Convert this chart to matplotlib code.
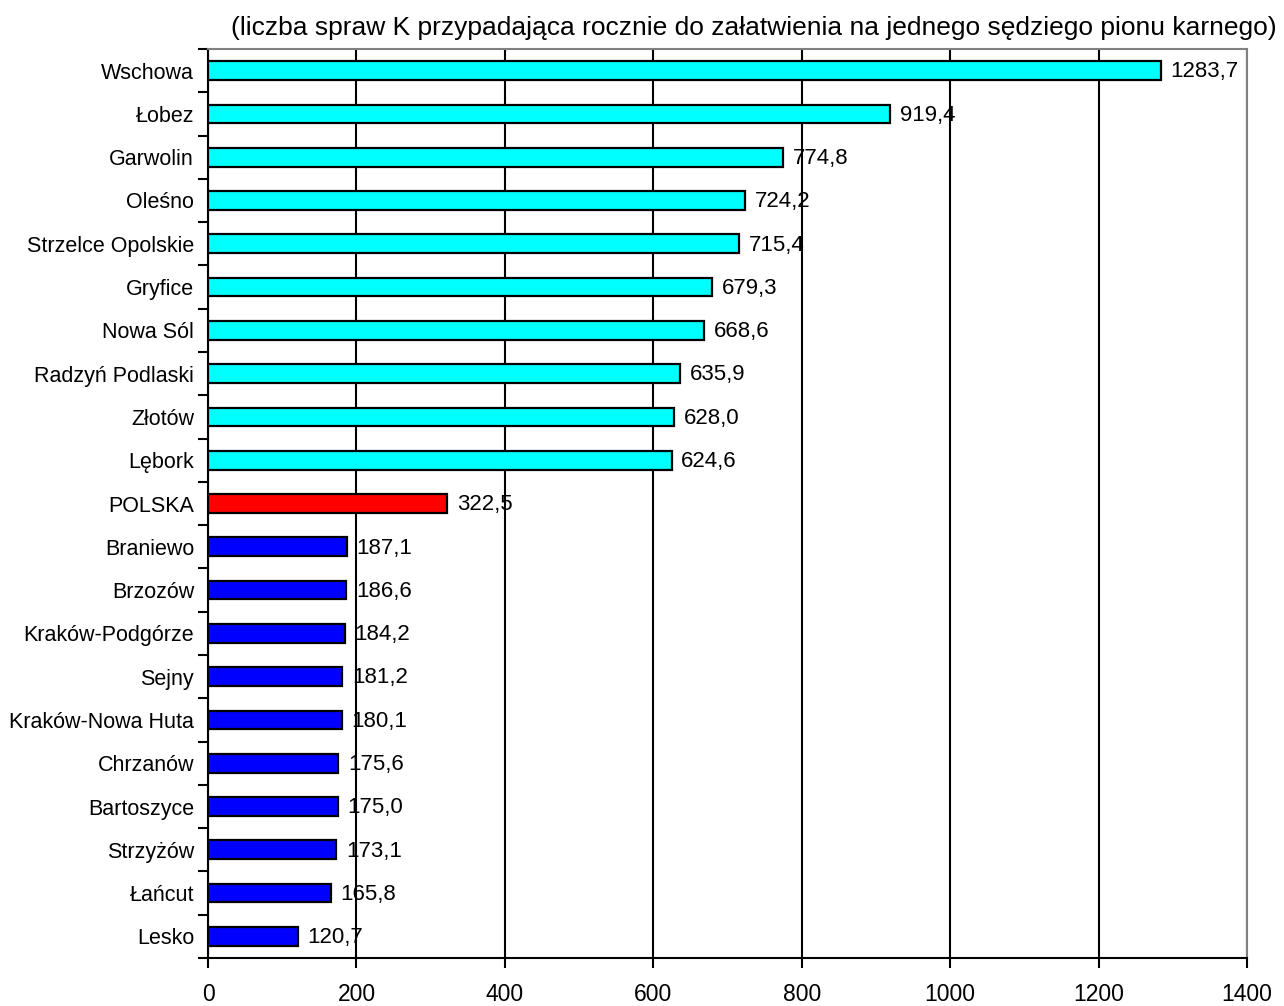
import matplotlib
matplotlib.use('Agg')
import matplotlib.pyplot as plt
import numpy as np

plt.rcParams['font.family'] = ['Liberation Sans', 'DejaVu Sans']

# dane (od góry do dołu)
sady = ['Wschowa', 'Łobez', 'Garwolin', 'Oleśno', 'Strzelce Opolskie', 'Gryfice',
        'Nowa Sól', 'Radzyń Podlaski', 'Złotów', 'Lębork', 'POLSKA', 'Braniewo',
        'Brzozów', 'Kraków-Podgórze', 'Sejny', 'Kraków-Nowa Huta', 'Chrzanów',
        'Bartoszyce', 'Strzyżów', 'Łańcut', 'Lesko']
wartosci = [1283.7, 919.4, 774.8, 724.2, 715.4, 679.3, 668.6, 635.9, 628.0, 624.6,
            322.5, 187.1, 186.6, 184.2, 181.2, 180.1, 175.6, 175.0, 173.1, 165.8, 120.7]
kolory = ['#00FFFF'] * 10 + ['#FF0000'] + ['#0000FF'] * 10

tytul = '(liczba spraw K przypadająca rocznie do załatwienia na jednego sędziego pionu karnego)'

fig = plt.figure(figsize=(12.84, 10.06), dpi=100)
ax = fig.add_axes([0.162, 0.0477, 0.8092, 0.9036])

n = len(sady)
y = np.arange(n)
ax.barh(y, wartosci, height=0.43, color=kolory, edgecolor='black', linewidth=1.6, zorder=3)

for yi, v in zip(y, wartosci):
    ax.text(v + 13, yi + 0.03, f'{v:.1f}'.replace('.', ','), va='center', ha='left',
            fontsize=16, zorder=4)

ax.set_xlim(0, 1400)
ax.set_ylim(n - 0.5, -0.5)
ax.set_xticks(np.arange(0, 1401, 200))
ax.tick_params(axis='x', labelsize=16.5, direction='out', length=7, width=1.5, pad=11)

# etykiety na środku, kreski między kategoriami
ax.set_yticks(y)
ax.set_yticklabels(sady, fontsize=15.5)
ax.tick_params(axis='y', which='major', length=0, pad=10)
ax.set_yticks(np.arange(-0.5, n, 1), minor=True)
ax.tick_params(axis='y', which='minor', direction='out', length=7, width=1.5)

ax.grid(axis='x', color='black', linewidth=1.5, zorder=0)
ax.set_axisbelow(True)

for s in ['left', 'bottom']:
    ax.spines[s].set_color('black')
    ax.spines[s].set_linewidth(1.5)
for s in ['top', 'right']:
    ax.spines[s].set_color('#808080')
    ax.spines[s].set_linewidth(1.5)

fig.text(0.587, 0.972, tytul, ha='center', va='center', fontsize=19)

plt.savefig('out.png', dpi=100)
plt.close()
